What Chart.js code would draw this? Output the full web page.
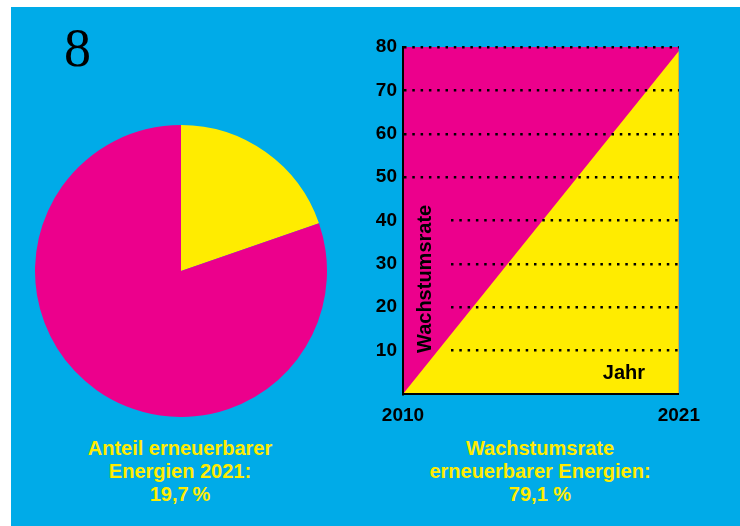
<!DOCTYPE html>
<html>
<head>
<meta charset="utf-8">
<script src="https://cdn.jsdelivr.net/npm/chart.js@4/dist/chart.umd.min.js"></script>
<style>
  body { margin: 0; background: #fff; width: 740px; height: 526px; overflow: hidden; }
  #panel { position: absolute; left: 11px; top: 7px; width: 729px; height: 519px; background: #00abe8; }
  #num { position: absolute; left: 64px; top: 17px; font: 54px "Liberation Serif", serif; color: #000; }
  #pieBox { position: absolute; left: 35px; top: 125px; width: 292px; height: 292px; }
  #lineBox { position: absolute; left: 360px; top: 27px; width: 350px; height: 410px; }
  .cap { position: absolute; width: 300px; text-align: center; color: #ffec00;
         font: bold 20px "Liberation Sans", Arial, sans-serif; line-height: 23px; }
  #capL { left: 30px; top: 437px; }
  #capR { left: 390px; top: 437px; }
</style>
</head>
<body>
<div id="panel"></div>
<div id="num">8</div>
<div id="pieBox"><canvas id="pie"></canvas></div>
<div id="lineBox"><canvas id="line"></canvas></div>
<div class="cap" id="capL">Anteil erneuerbarer<br>Energien 2021:<br>19,7&#8239;%</div>
<div class="cap" id="capR">Wachstumsrate<br>erneuerbarer Energien:<br>79,1 %</div>
<script>
// pie: share of renewables 2021
const shareLabels = ["erneuerbar", "sonstige"];
const shareValues = [19.7, 80.3];

// growth rate 2010 -> 2021
const years = ["2010", "2021"];
const growthValues = [0, 79.1];
const topValues = [80, 80];
const yTicks = [10, 20, 30, 40, 50, 60, 70, 80];

const YELLOW = "#ffec00";
const MAGENTA = "#ec008c";
const tickFont = { family: "Liberation Sans, Arial, sans-serif", size: 19, weight: "bold" };

new Chart(document.getElementById("pie"), {
  type: "pie",
  data: {
    labels: shareLabels,
    datasets: [{ data: shareValues, backgroundColor: [YELLOW, MAGENTA], borderWidth: 0 }],
  },
  options: {
    responsive: true,
    maintainAspectRatio: false,
    animation: false,
    layout: { padding: 0 },
    plugins: { legend: { display: false }, tooltip: { enabled: false } },
  },
});

// dotted grid pattern, the lower lines leave room for the rotated label
function dots(skip) {
  const arr = [0, skip];
  for (let i = 0; i < 40; i++) arr.push(2.5, 5.8);
  return arr;
}

const innerText = {
  id: "innerText",
  afterDraw(chart) {
    const { ctx, chartArea } = chart;
    ctx.save();
    ctx.fillStyle = "#000";
    ctx.font = "bold 20px Liberation Sans, Arial, sans-serif";
    ctx.textBaseline = "alphabetic";
    ctx.fillText("Jahr", chartArea.right - 76, chartArea.bottom - 15);
    ctx.translate(chartArea.left + 28, chartArea.bottom - 41);
    ctx.rotate(-Math.PI / 2);
    ctx.fillText("Wachstumsrate", 0, 0);
    ctx.restore();
  },
};

new Chart(document.getElementById("line"), {
  type: "line",
  data: {
    labels: years,
    datasets: [
      { data: growthValues, fill: "origin", backgroundColor: YELLOW, borderWidth: 0, pointRadius: 0, order: 0 },
      { data: topValues, fill: "origin", backgroundColor: MAGENTA, borderWidth: 0, pointRadius: 0, order: 1 },
    ],
  },
  options: {
    responsive: true,
    maintainAspectRatio: false,
    animation: false,
    layout: { padding: { top: 20, right: 31, bottom: 0, left: 0 } },
    plugins: { legend: { display: false }, tooltip: { enabled: false } },
    scales: {
      x: {
        offset: false,
        afterFit(s) { s.height = 43; },
        grid: { display: false, drawTicks: false },
        border: { display: true, color: "#000", width: 2, z: 1 },
        ticks: { color: "#000", font: tickFont, padding: 10, maxRotation: 0 },
      },
      y: {
        min: 0,
        max: 80,
        afterFit(s) { s.width = 43; },
        afterBuildTicks(s) { s.ticks = yTicks.map((v) => ({ value: v })); },
        grid: {
          drawTicks: false,
          lineWidth: 2.5,
          z: 1,
          color: (c) => (c.tick && c.tick.value > 0 ? "#000" : "rgba(0,0,0,0)"),
        },
        border: {
          display: true,
          color: "#000",
          width: 2,
          z: 1,
          dash: (c) => (c.tick && c.tick.value <= 40 ? dots(47) : dots(0)),
        },
        ticks: { color: "#000", font: tickFont, padding: 6 },
      },
    },
  },
  plugins: [innerText],
});
</script>
</body>
</html>
